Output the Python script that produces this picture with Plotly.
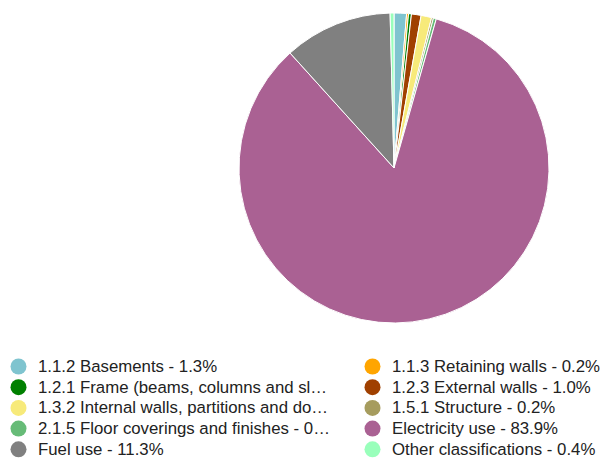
import plotly.graph_objects as go

categories = [
    "1.1.2 Basements",
    "1.1.3 Retaining walls",
    "1.2.1 Frame (beams, columns and slabs)",
    "1.2.3 External walls",
    "1.3.2 Internal walls, partitions and doors",
    "1.5.1 Structure",
    "2.1.5 Floor coverings and finishes",
    "Electricity use",
    "Fuel use",
    "Other classifications",
]
values = [1.3, 0.2, 0.3, 1.0, 1.1, 0.2, 0.3, 83.9, 11.3, 0.4]
legend_labels = [
    "1.1.2 Basements - 1.3%",
    "1.1.3 Retaining walls - 0.2%",
    "1.2.1 Frame (beams, columns and sl…",
    "1.2.3 External walls - 1.0%",
    "1.3.2 Internal walls, partitions and do…",
    "1.5.1 Structure - 0.2%",
    "2.1.5 Floor coverings and finishes - 0…",
    "Electricity use - 83.9%",
    "Fuel use - 11.3%",
    "Other classifications - 0.4%",
]
colors = ["#7fc4cf", "#ffa500", "#008000", "#a04000", "#f7ea7a",
          "#a69c5e", "#66bb77", "#aa6193", "#808080", "#99ffbb"]

W, H = 601, 459
cx, cy, r = 394, 168, 155

fig = go.Figure()
fig.add_trace(go.Pie(
    labels=categories, values=values, sort=False, direction="clockwise",
    rotation=0, marker=dict(colors=colors, line=dict(color="white", width=1)),
    textinfo="none", hoverinfo="label+percent", showlegend=False,
    domain=dict(x=[(cx - r) / W, (cx + r) / W], y=[1 - (cy + r) / H, 1 - (cy - r) / H]),
))

# manual two-column legend with circular markers (row-major order)
col_x = [18.5, 372.5]
text_dx = 17.5
row_y0, row_dy = 366.5, 20.7
mr = 8
shapes, annots = [], []
for i, (lab, col) in enumerate(zip(legend_labels, colors)):
    c, rw = i % 2, i // 2
    px, py = col_x[c], row_y0 + rw * row_dy
    shapes.append(dict(type="circle", xref="paper", yref="paper",
                       x0=(px - mr) / W, x1=(px + mr) / W,
                       y0=1 - (py + mr) / H, y1=1 - (py - mr) / H,
                       fillcolor=col, line=dict(width=0)))
    annots.append(dict(text=lab, xref="paper", yref="paper",
                       x=(px + text_dx) / W, y=1 - py / H,
                       xanchor="left", yanchor="middle", showarrow=False,
                       font=dict(size=16.8, color="#222222")))

fig.update_layout(
    width=W, height=H, margin=dict(l=0, r=0, t=0, b=0),
    paper_bgcolor="white", plot_bgcolor="white",
    font=dict(family="Liberation Sans, Arial, sans-serif", size=14, color="#222222"),
    shapes=shapes, annotations=annots, showlegend=False,
)
fig.write_html("out.html")
